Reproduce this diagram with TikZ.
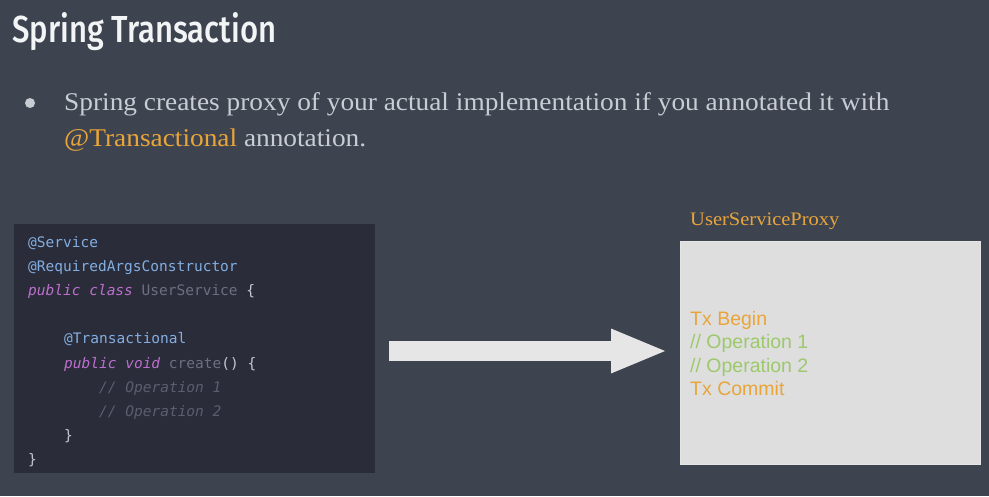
\documentclass[tikz,border=0pt]{standalone}
\usepackage{fontspec}
\setmainfont{Liberation Serif}
\setsansfont{Liberation Sans}
\setmonofont{DejaVu Sans Mono}
\newfontfamily\titlefont{Fira Sans Medium}
\usetikzlibrary{positioning,arrows.meta}
\definecolor{slide}{HTML}{3D4450}
\definecolor{codebg}{HTML}{2A2C39}
\definecolor{annot}{HTML}{82AEE2}
\definecolor{keyword}{HTML}{BC6FCC}
\definecolor{ident}{HTML}{6C6F7E}
\definecolor{brace}{HTML}{C5C8D0}
\definecolor{comment}{HTML}{5A5E6E}
\definecolor{txorange}{HTML}{E9A53A}
\definecolor{opgreen}{HTML}{9DC86C}
\definecolor{proxybg}{HTML}{DEDEDE}
\definecolor{arrowfill}{HTML}{E6E6E6}
\definecolor{bodytext}{HTML}{C9CCD2}
\newcommand{\annot}[1]{\textcolor{annot}{#1}}
\newcommand{\keyw}[1]{\textcolor{keyword}{\itshape #1}}
\newcommand{\ident}[1]{\textcolor{ident}{#1}}
\newcommand{\brc}[1]{\textcolor{brace}{#1}}
\newcommand{\cmt}[1]{\textcolor{comment}{\itshape #1}}
\newcommand{\widen}[2][1.08]{\scalebox{#1}[1]{#2}}
\tikzset{
    title/.style={anchor=base west, inner sep=0pt, text=white!94!slide,
        font=\titlefont\fontsize{42}{42}\selectfont},
    bullettext/.style={anchor=base west, inner sep=0pt, text=bodytext,
        font=\fontsize{25.5}{25.5}\selectfont},
    codeline/.style={anchor=base west, inner sep=0pt,
        font=\ttfamily\fontsize{14.5}{14.5}\selectfont},
    proxyline/.style={anchor=base west, inner sep=0pt,
        font=\sffamily\fontsize{19.5}{19.5}\selectfont},
    bigarrow/.style={draw=arrowfill, fill=arrowfill, line width=20pt,
        -{Triangle[length=57pt,width=40pt]}}
}
\begin{document}
\begin{tikzpicture}[x=1pt,y=-1pt]
    \fill[slide] (0,0) rectangle (989,496);
    \useasboundingbox (0,0) rectangle (989,496);

    \node[title] (title) at (12,42) {\resizebox{264pt}{30pt}{Spring Transaction}};

    \fill[bodytext] (30,103) circle (5pt);
    \node[bullettext] (line1) at (64,110)
        {\widen[1.072]{Spring creates proxy of your actual implementation if you annotated it with}};
    \node[bullettext] (line2) at (64,146.5)
        {\widen[1.072]{\textcolor{txorange}{@Transactional} annotation.}};

    \node[fill=codebg, minimum width=361pt, minimum height=249pt,
        anchor=north west, inner sep=0pt] (codebox) at (14,224) {};
    \node[codeline] (c1) at (28,247) {\annot{@Service}};
    \node[codeline] (c2) at (28,271.2) {\annot{@RequiredArgsConstructor}};
    \node[codeline] (c3) at (28,295.4) {\keyw{public class} \ident{UserService} \brc{\{}};
    \node[codeline] (c5) at (64,343.8) {\annot{@Transactional}};
    \node[codeline] (c6) at (64,368) {\keyw{public void} \ident{create}\brc{() \{}};
    \node[codeline] (c7) at (99,392.2) {\cmt{// Operation 1}};
    \node[codeline] (c8) at (99,416.4) {\cmt{// Operation 2}};
    \node[codeline] (c9) at (64,440.6) {\brc{\}}};
    \node[codeline] (c10) at (28,464.8) {\brc{\}}};

    \node[fill=proxybg, draw=white!80!gray, minimum width=300pt, minimum height=223pt,
        anchor=north west, inner sep=0pt] (proxy) at (680,241) {};
    \node[anchor=base west, inner sep=0pt, text=txorange,
        font=\fontsize{19}{19}\selectfont] (proxylabel) at (690,225) {\widen{UserServiceProxy}};
    \node[proxyline, text=txorange] (txbegin) at (690,325) {Tx Begin};
    \node[proxyline, text=opgreen] (op1) at (690,348.5) {// Operation 1};
    \node[proxyline, text=opgreen] (op2) at (690,372) {// Operation 2};
    \node[proxyline, text=txorange] (txcommit) at (690,395.5) {Tx Commit};

    \coordinate (arrowy) at (0,351);
    \draw[bigarrow, shorten <=14pt, shorten >=12pt]
        (codebox.east |- arrowy) -- (proxy.west |- arrowy);
\end{tikzpicture}
\end{document}
